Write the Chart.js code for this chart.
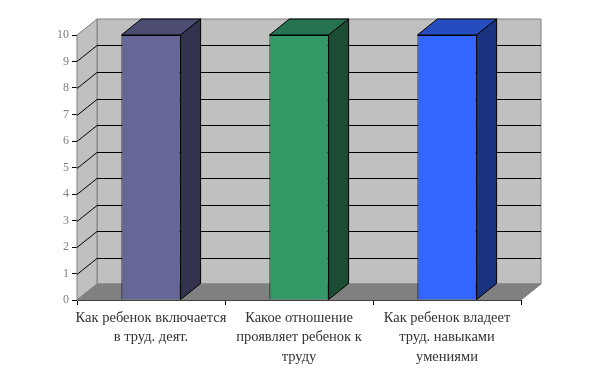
<!DOCTYPE html>
<html>
<head>
<meta charset="utf-8">
<style>
html, body { margin: 0; padding: 0; background: #fff; }
#wrap { width: 599px; height: 387px; }
</style>
<script src="https://cdn.jsdelivr.net/npm/chart.js@4/dist/chart.umd.min.js"></script>
</head>
<body>
<div id="wrap"><canvas id="graphCanvas" width="599" height="387"></canvas></div>
<script>
var categories = [
    ['Как ребенок включается', 'в труд. деят.'],
    ['Какое отношение', 'проявляет ребенок к', 'труду'],
    ['Как ребенок владеет', 'труд. навыками', 'умениями']
];
var values = [10, 10, 10];
var yTicks = [0, 1, 2, 3, 4, 5, 6, 7, 8, 9, 10];

var frontColors = ['#666699', '#339966', '#3366ff'];
var topColors = ['#4d4d73', '#267350', '#264dbf'];
var sideColors = ['#333350', '#1a4d33', '#1a3380'];

var depthX = 20;
var depthY = -16;

function poly(ctx, pts, fill, stroke) {
    ctx.beginPath();
    ctx.moveTo(pts[0][0], pts[0][1]);
    for (var i = 1; i < pts.length; i++) {
        ctx.lineTo(pts[i][0], pts[i][1]);
    }
    ctx.closePath();
    if (fill) {
        ctx.fillStyle = fill;
        ctx.fill();
    }
    if (stroke) {
        ctx.strokeStyle = stroke;
        ctx.lineWidth = 1;
        ctx.stroke();
    }
}

// walls, floor and the 3d sides of the bars, drawn under the library's bars
var box3d = {
    id: 'box3d',
    beforeDatasetsDraw: function (chart) {
        var ctx = chart.ctx;
        var a = chart.chartArea;
        var y = chart.scales.y;
        var bx = depthX, by = depthY;

        ctx.save();
        // back wall
        poly(ctx, [[a.left + bx, a.top + by], [a.right + bx, a.top + by],
            [a.right + bx, a.bottom + by], [a.left + bx, a.bottom + by]], '#c0c0c0', '#808080');
        // left wall
        poly(ctx, [[a.left, a.top], [a.left + bx, a.top + by],
            [a.left + bx, a.bottom + by], [a.left, a.bottom]], '#c0c0c0', '#808080');
        // floor
        poly(ctx, [[a.left, a.bottom], [a.left + bx, a.bottom + by],
            [a.right + bx, a.bottom + by], [a.right, a.bottom]], '#808080', '#808080');

        // gridlines run along the left wall then the back wall
        ctx.strokeStyle = '#000';
        ctx.lineWidth = 1;
        yTicks.forEach(function (t) {
            if (t === yTicks[0] || t === yTicks[yTicks.length - 1]) return;
            var py = Math.round(y.getPixelForValue(t)) + 0.5;
            ctx.beginPath();
            ctx.moveTo(a.left, py);
            ctx.lineTo(a.left + bx, py + by);
            ctx.lineTo(a.right + bx, py + by);
            ctx.stroke();
        });

        // bar tops and sides
        var bars = chart.getDatasetMeta(0).data;
        bars.forEach(function (b, i) {
            var l = b.x - b.width / 2, r = b.x + b.width / 2;
            poly(ctx, [[l, b.y], [l + bx, b.y + by], [r + bx, b.y + by], [r, b.y]], topColors[i], '#000');
            poly(ctx, [[r, b.y], [r + bx, b.y + by], [r + bx, b.base + by], [r, b.base]], sideColors[i], '#000');
        });
        ctx.restore();
    }
};

var chartdata = {
    labels: categories,
    datasets: [{
        data: values,
        backgroundColor: frontColors,
        borderColor: '#000',
        borderWidth: 1,
        barPercentage: 0.4,
        categoryPercentage: 1
    }]
};

var graphTarget = document.getElementById('graphCanvas');

var barGraph = new Chart(graphTarget, {
    type: 'bar',
    data: chartdata,
    plugins: [box3d],
    options: {
        responsive: false,
        animation: false,
        layout: { padding: { top: 35, right: 78, bottom: 0, left: 0 } },
        plugins: {
            legend: { display: false },
            tooltip: { enabled: false }
        },
        scales: {
            x: {
                offset: true,
                afterFit: function (s) { s.height = 87; },
                border: { color: '#000' },
                grid: { offset: true, drawOnChartArea: false, color: '#000', tickLength: 5 },
                ticks: {
                    maxRotation: 0,
                    autoSkip: false,
                    padding: 3,
                    color: '#333',
                    font: { family: '"Liberation Serif"', size: 14.5, lineHeight: 1.35 }
                }
            },
            y: {
                min: 0,
                max: 10,
                afterFit: function (s) { s.width = 77; },
                border: { color: '#808080' },
                grid: { drawOnChartArea: false, color: '#000', tickLength: 5 },
                ticks: {
                    stepSize: 1,
                    padding: 3,
                    color: '#808080',
                    font: { family: '"Liberation Serif"', size: 12 }
                }
            }
        }
    }
});
</script>
</body>
</html>
